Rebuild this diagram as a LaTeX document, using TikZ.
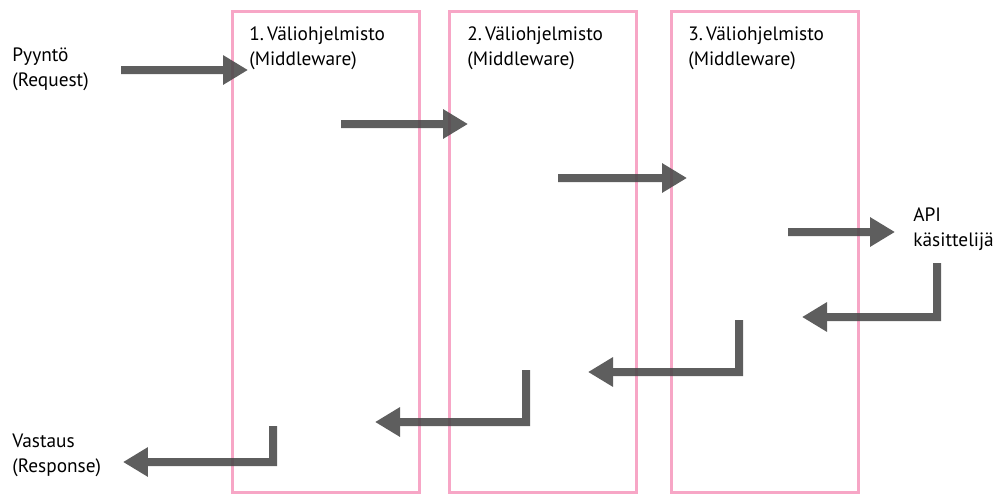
\documentclass[tikz,border=0pt]{standalone}
\usepackage{fontspec}
\setmainfont{PT Sans}
\definecolor{mwpink}{RGB}{247, 166, 198}
\definecolor{flowgray}{RGB}{72, 72, 72}
\usetikzlibrary{arrows.meta, positioning, calc}

\begin{document}
\begin{tikzpicture}[x=0.02cm, y=-0.02cm,
  mwbox/.style={draw=mwpink, line width=0.06cm, minimum width=3.76cm, minimum height=9.64cm, inner sep=0pt},
  lbl/.style={anchor=base west, align=left, inner sep=0pt, font=\fontsize{11}{14.2}\selectfont},
  flow/.style={draw=flowgray, line width=0.16cm, -{Triangle[length=0.5cm, width=0.56cm]}}]
  \useasboundingbox (0,0) rectangle (1003,497);

  % Middleware columns
  \node[mwbox] (mw1) at (326,252) {};
  \node[mwbox] (mw2) at (543,252) {};
  \node[mwbox] (mw3) at (765,252) {};

  % (base anchor sits on the last line)
  \node[lbl] (mw1txt) at (249,65) {1.\,Väliohjelmisto\\(Middleware)};
  \node[lbl] (mw2txt) at (467,65) {2.\,Väliohjelmisto\\(Middleware)};
  \node[lbl] (mw3txt) at (688,65) {3.\,Väliohjelmisto\\(Middleware)};

  % Ends
  \node[lbl] (req) at (12,86) {Pyyntö\\(Request)};
  \node[lbl] (api) at (913,246) {API\\käsittelijä};
  \node[lbl] (resp) at (12,472) {Vastaus\\(Response)};

  % Request going in
  \foreach \i/\xa/\xb/\y in {1/121/248/70, 2/341/468/124, 3/558/687/178, 4/788/895/232} {
    \coordinate (in\i a) at (\xa,\y);
    \coordinate (in\i b) at (\xb,\y);
    \begin{scope}[transparency group, opacity=0.88]
      \draw[flow] (in\i a) -- (in\i b);
    \end{scope}
  }

  % Response coming back
  \foreach \i/\xa/\ya/\xb/\yb in {1/937/263/802/317, 2/739/320/588/372, 3/526/370/375/422, 4/273/426/123/462} {
    \coordinate (out\i a) at (\xa,\ya);
    \coordinate (out\i b) at (\xb,\yb);
    \begin{scope}[transparency group, opacity=0.88]
      \draw[flow] (out\i a) |- (out\i b);
    \end{scope}
  }
\end{tikzpicture}
\end{document}
